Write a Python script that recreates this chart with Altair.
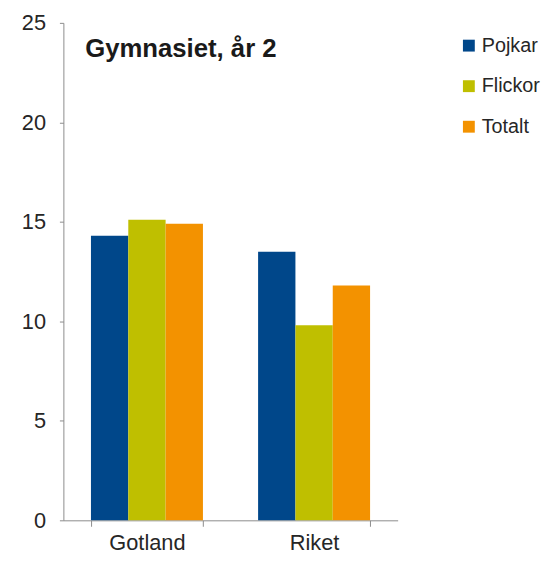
import altair as alt
import pandas as pd

regions = ["Gotland", "Riket"]
groups = ["Pojkar", "Flickor", "Totalt"]
pojkar = [14.3, 13.5]
flickor = [15.1, 9.8]
totalt = [14.9, 11.8]
colors = ["#00478A", "#BFBF00", "#F39200"]
title_text = "Gymnasiet, år 2"

rows = []
for i, r in enumerate(regions):
    for g, vals in zip(groups, [pojkar, flickor, totalt]):
        rows.append({"Region": r, "Grupp": g, "Värde": vals[i]})
df = pd.DataFrame(rows)

font = "Liberation Sans"

bars = alt.Chart(df).mark_bar().encode(
    x=alt.X("Region:N", sort=regions,
            scale=alt.Scale(paddingInner=0.33, paddingOuter=0.165),
            axis=alt.Axis(title=None, labelAngle=0, tickBand="extent", tickSize=6,
                          labelPadding=6, labelFontSize=22, labelFont=font,
                          labelColor="#262626", domainColor="#8c8c8c", tickColor="#8c8c8c")),
    xOffset=alt.XOffset("Grupp:N", sort=groups),
    y=alt.Y("Värde:Q", scale=alt.Scale(domain=[0, 25]),
            axis=alt.Axis(title=None, values=[0, 5, 10, 15, 20, 25], grid=False, tickSize=4,
                          labelPadding=14, labelFontSize=22, labelFont=font,
                          labelColor="#262626", domainColor="#8c8c8c", tickColor="#8c8c8c")),
    color=alt.Color("Grupp:N", sort=groups,
                    scale=alt.Scale(domain=groups, range=colors),
                    legend=alt.Legend(title=None, orient="none", legendX=400, legendY=13,
                                      symbolType="square", symbolSize=144, symbolStrokeWidth=0,
                                      labelFontSize=20, labelFont=font, labelColor="#262626",
                                      rowPadding=21, labelOffset=3)),
)

title = alt.Chart(pd.DataFrame({"t": [title_text]})).mark_text(
    align="left", baseline="middle", fontSize=26, fontWeight="bold", font=font, color="#1a1a1a"
).encode(x=alt.value(22), y=alt.value(27), text="t:N")

chart = alt.layer(bars, title).properties(
    width=338, height=503,
    autosize=alt.AutoSizeParams(type="none"),
    padding={"left": 56, "top": 12, "right": 150, "bottom": 31},
).configure_view(stroke=None)

chart.save("out.html", embed_options={"renderer": "svg", "actions": False})
